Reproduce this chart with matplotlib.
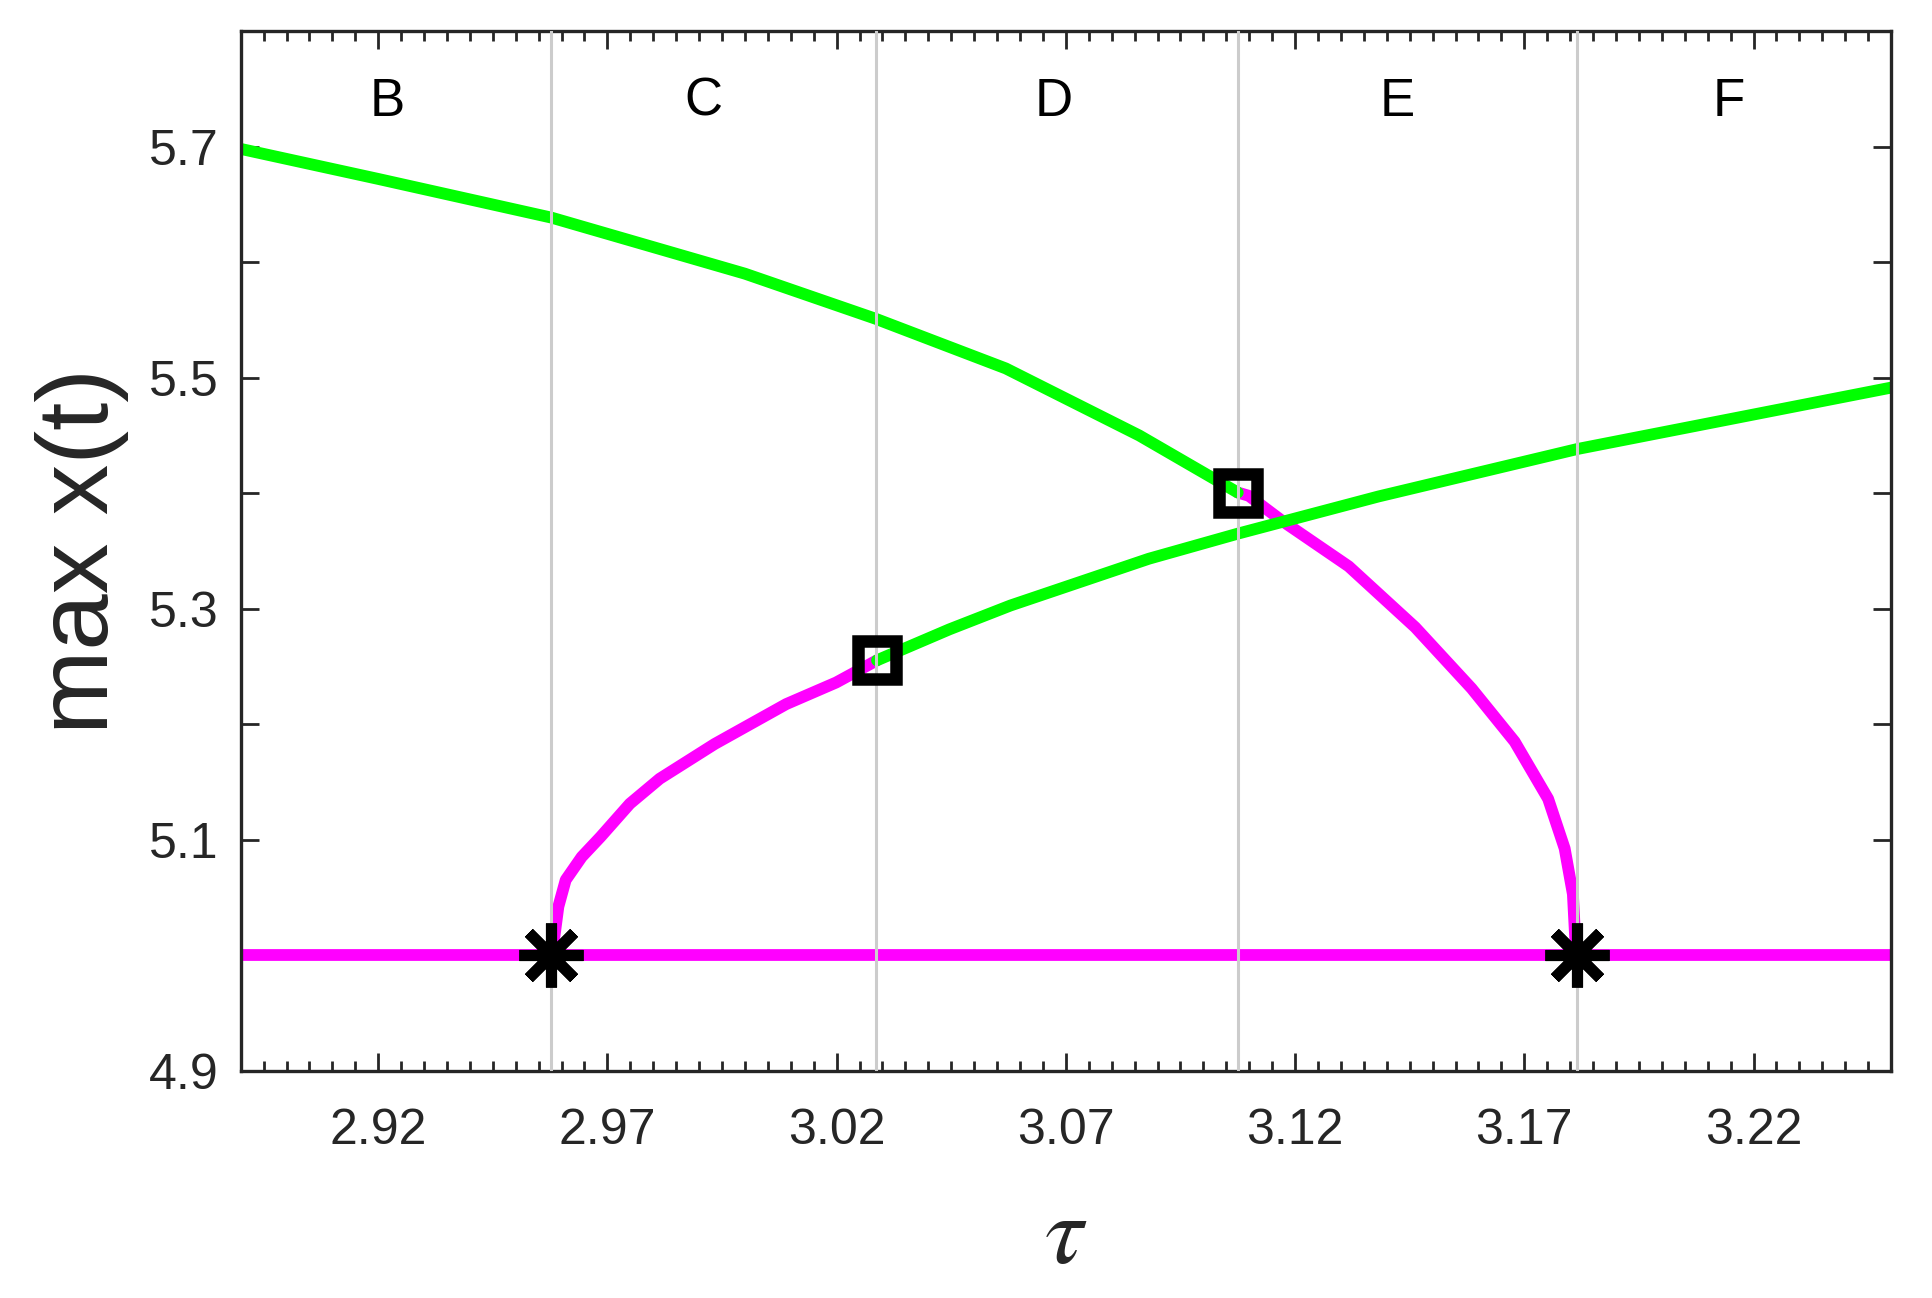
import numpy as np
import matplotlib
matplotlib.use("Agg")
import matplotlib.pyplot as plt
from matplotlib.ticker import FixedLocator, MultipleLocator

plt.rcParams['font.family'] = ['Liberation Sans', 'DejaVu Sans']

# upper green branch (stable, decreasing)
tau_green_up = [2.89, 2.92, 2.9578, 3.0, 3.0285, 3.0569, 3.086, 3.1075]
max_green_up = [5.698, 5.672, 5.6385, 5.590, 5.551, 5.508, 5.450, 5.4006]

# lower green branch (stable, increasing)
tau_green_lo = [3.0288, 3.0446, 3.0579, 3.0881, 3.1075, 3.1382, 3.1815, 3.25]
max_green_lo = [5.2554, 5.2822, 5.3028, 5.3433, 5.365, 5.3972, 5.4382, 5.4914]

# magenta branches (unstable)
tau_mag_1 = [2.9579, 2.9593, 2.9609, 2.9644, 2.9685, 2.9749, 2.9814, 2.9934, 3.0090, 3.0199, 3.0288]
max_mag_1 = [5.0, 5.0422, 5.0653, 5.0853, 5.1026, 5.1313, 5.1529, 5.183, 5.2175, 5.2362, 5.2554]

tau_mag_2 = [3.1075, 3.1099, 3.1171, 3.1317, 3.1462, 3.1585, 3.1679, 3.1752, 3.1788, 3.1806, 3.1813]
max_mag_2 = [5.4006, 5.3978, 5.3763, 5.3367, 5.284, 5.2311, 5.185, 5.1355, 5.0926, 5.053, 5.0]

tau_equil = [2.89, 3.25]
max_equil = [5.0, 5.0]

# bifurcation points
tau_hopf = [2.9578, 3.1815]
max_hopf = [5.0, 5.0]
tau_fold = [3.0288, 3.1075]
max_fold = [5.2554, 5.4006]

# region borders and labels
tau_borders = [2.9578, 3.0285, 3.1075, 3.1815]
region_names = ['B', 'C', 'D', 'E', 'F']
region_tau = [2.9219, 2.9909, 3.0674, 3.1422, 3.2146]
region_y = 5.739

xtick_vals = [2.92, 2.97, 3.02, 3.07, 3.12, 3.17, 3.22]
ytick_vals = [4.9, 5.0, 5.1, 5.2, 5.3, 5.4, 5.5, 5.6, 5.7, 5.8]
ytick_labels = ['4.9', '', '5.1', '', '5.3', '', '5.5', '', '5.7', '']

dark = '#262626'
green = '#00ff00'
magenta = '#ff00ff'

fig = plt.figure(figsize=(19.33, 12.98), dpi=100)
ax = fig.add_axes([0.1245, 0.1749, 0.9783 - 0.1245, 0.9761 - 0.1749])

lw = 8.5
ax.plot(tau_equil, max_equil, color=magenta, lw=lw, solid_capstyle='butt', zorder=2)
ax.plot(tau_mag_1, max_mag_1, color=magenta, lw=lw, solid_capstyle='round', zorder=2)
ax.plot(tau_mag_2, max_mag_2, color=magenta, lw=lw, solid_capstyle='round', zorder=2)
ax.plot(tau_green_up, max_green_up, color=green, lw=lw, solid_capstyle='round', zorder=2)
ax.plot(tau_green_lo, max_green_lo, color=green, lw=lw, solid_capstyle='round', zorder=2)

for t in tau_borders:
    ax.axvline(t, color='#cccccc', lw=2.2, zorder=3)

ax.plot(tau_hopf, max_hopf, ls='none', marker=(8, 2, 0), ms=46, mew=8,
        color='black', zorder=4)
ax.plot(tau_fold, max_fold, ls='none', marker='s', ms=27, mew=9,
        mec='black', mfc='none', zorder=4)

for name, t in zip(region_names, region_tau):
    ax.text(t, region_y, name, ha='center', va='center', fontsize=38, color='black')

ax.set_xlim(2.89, 3.25)
ax.set_ylim(4.9, 5.8)
ax.xaxis.set_major_locator(FixedLocator(xtick_vals))
ax.xaxis.set_minor_locator(MultipleLocator(0.005))
ax.set_xticklabels([f'{v:.2f}' for v in xtick_vals])
ax.yaxis.set_major_locator(FixedLocator(ytick_vals))
ax.set_yticklabels(ytick_labels)

ax.tick_params(axis='both', which='both', direction='in', top=True, right=True,
               color=dark, labelcolor=dark)
ax.tick_params(axis='both', which='major', length=13, width=2.0, labelsize=36)
ax.tick_params(axis='x', which='minor', length=7, width=2.0)
ax.tick_params(axis='x', which='major', pad=27)
ax.tick_params(axis='y', which='major', pad=16)

for sp in ax.spines.values():
    sp.set_color(dark)
    sp.set_linewidth(2.4)

ax.set_ylabel('max x(t)', fontsize=73, color=dark, labelpad=14)
ax.set_xlabel(r'$\tau$', fontsize=70, color=dark, labelpad=28, math_fontfamily='stix')

fig.savefig('out.png', dpi=100)
